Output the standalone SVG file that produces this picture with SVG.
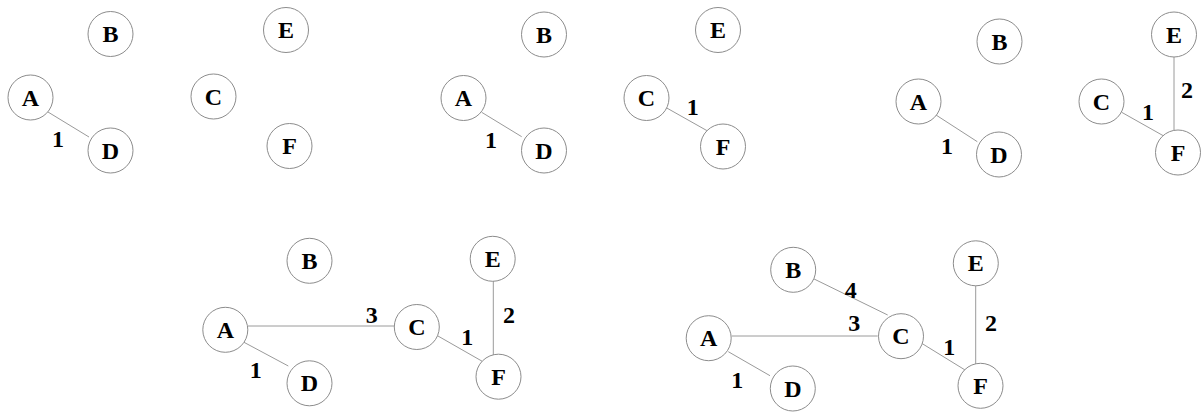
<svg xmlns="http://www.w3.org/2000/svg" width="1202" height="412" viewBox="0 0 1202 412">
  <style>
    .node circle { fill: #ffffff; stroke: #8c8c8c; stroke-width: 1; }
    .node text, .wt { font-family: "Liberation Serif", "Times New Roman", serif; font-weight: bold; font-size: 24px; fill: #000000; text-anchor: middle; }
    .edges line { stroke: #9a9a9a; stroke-width: 1; }
  </style>
  <rect width="1202" height="412" fill="#ffffff"/>

  <!-- edges of every stage -->
  <g id="connectors" class="edges">
    <!-- stage 1 -->
    <line x1="48" y1="112" x2="89" y2="137"/>
    <!-- stage 2 -->
    <line x1="481.7" y1="112.3" x2="521.7" y2="136.7"/>
    <line x1="665" y1="107" x2="711.7" y2="133.3"/>
    <!-- stage 3 -->
    <line x1="936" y1="115" x2="977.3" y2="141.7"/>
    <line x1="1121.7" y1="112.3" x2="1165" y2="136.7"/>
    <line x1="1174" y1="57" x2="1174" y2="137"/>
    <!-- stage 4 -->
    <line x1="244" y1="342.3" x2="288.3" y2="366"/>
    <line x1="248" y1="326" x2="394" y2="326"/>
    <line x1="435" y1="334.3" x2="484" y2="362.3"/>
    <line x1="493.3" y1="281" x2="493.3" y2="360"/>
    <!-- stage 5 -->
    <line x1="728.3" y1="351.7" x2="770" y2="375.7"/>
    <line x1="731.7" y1="336" x2="877.7" y2="336"/>
    <line x1="812.7" y1="278.3" x2="887.7" y2="315"/>
    <line x1="921.7" y1="343.3" x2="966.7" y2="371"/>
    <line x1="975.7" y1="286" x2="975.7" y2="366.7"/>
  </g>

  <!-- edge weights -->
  <g id="weights">
    <text class="wt" x="58" y="147">1</text>

    <text class="wt" x="491" y="148">1</text>
    <text class="wt" x="692.7" y="115">1</text>

    <text class="wt" x="947" y="154">1</text>
    <text class="wt" x="1148" y="120">1</text>
    <text class="wt" x="1187" y="98">2</text>

    <text class="wt" x="255.7" y="378">1</text>
    <text class="wt" x="371.7" y="323">3</text>
    <text class="wt" x="467.3" y="344.5">1</text>
    <text class="wt" x="509" y="323">2</text>

    <text class="wt" x="737.3" y="388">1</text>
    <text class="wt" x="850.7" y="298">4</text>
    <text class="wt" x="854.3" y="331">3</text>
    <text class="wt" x="949.3" y="354.5">1</text>
    <text class="wt" x="991" y="331">2</text>
  </g>

  <!-- stage 1 -->
  <g id="s1-A" class="node"><circle cx="30.5" cy="97.5" r="22.5"/><text x="30.5" y="105.5">A</text></g>
  <g id="s1-B" class="node"><circle cx="110.5" cy="34" r="22.5"/><text x="110.5" y="42">B</text></g>
  <g id="s1-C" class="node"><circle cx="213.5" cy="96.5" r="22.5"/><text x="213.5" y="104.5">C</text></g>
  <g id="s1-D" class="node"><circle cx="110.5" cy="150.5" r="22.5"/><text x="110.5" y="158.5">D</text></g>
  <g id="s1-E" class="node"><circle cx="286" cy="30" r="22.5"/><text x="286" y="38">E</text></g>
  <g id="s1-F" class="node"><circle cx="289.5" cy="146" r="22.5"/><text x="289.5" y="154">F</text></g>

  <!-- stage 2 -->
  <g id="s2-A" class="node"><circle cx="463.5" cy="98" r="22.5"/><text x="463.5" y="106">A</text></g>
  <g id="s2-B" class="node"><circle cx="544" cy="34.5" r="22.5"/><text x="544" y="42.5">B</text></g>
  <g id="s2-C" class="node"><circle cx="646.5" cy="98" r="22.5"/><text x="646.5" y="106">C</text></g>
  <g id="s2-D" class="node"><circle cx="544" cy="150.5" r="22.5"/><text x="544" y="158.5">D</text></g>
  <g id="s2-E" class="node"><circle cx="718" cy="30" r="22.5"/><text x="718" y="38">E</text></g>
  <g id="s2-F" class="node"><circle cx="723" cy="146.5" r="22.5"/><text x="723" y="154.5">F</text></g>

  <!-- stage 3 -->
  <g id="s3-A" class="node"><circle cx="918.5" cy="101.5" r="22.5"/><text x="918.5" y="109.5">A</text></g>
  <g id="s3-B" class="node"><circle cx="999.5" cy="41.5" r="22.5"/><text x="999.5" y="49.5">B</text></g>
  <g id="s3-C" class="node"><circle cx="1101.5" cy="101.5" r="22.5"/><text x="1101.5" y="109.5">C</text></g>
  <g id="s3-D" class="node"><circle cx="999" cy="154.5" r="22.5"/><text x="999" y="162.5">D</text></g>
  <g id="s3-E" class="node"><circle cx="1174" cy="34.5" r="22.5"/><text x="1174" y="42.5">E</text></g>
  <g id="s3-F" class="node"><circle cx="1178" cy="152.5" r="22.5"/><text x="1178" y="160.5">F</text></g>

  <!-- stage 4 -->
  <g id="s4-A" class="node"><circle cx="225.3" cy="329.8" r="22.5"/><text x="225.3" y="337.8">A</text></g>
  <g id="s4-B" class="node"><circle cx="309.5" cy="260.8" r="22.5"/><text x="309.5" y="268.8">B</text></g>
  <g id="s4-C" class="node"><circle cx="416.8" cy="327" r="22.5"/><text x="416.8" y="335">C</text></g>
  <g id="s4-D" class="node"><circle cx="309.5" cy="383.3" r="22.5"/><text x="309.5" y="391.3">D</text></g>
  <g id="s4-E" class="node"><circle cx="492.7" cy="258.8" r="22.5"/><text x="492.7" y="266.8">E</text></g>
  <g id="s4-F" class="node"><circle cx="498.5" cy="376.7" r="22.5"/><text x="498.5" y="384.7">F</text></g>

  <!-- stage 5 -->
  <g id="s5-A" class="node"><circle cx="708.7" cy="338.2" r="22.5"/><text x="708.7" y="346.2">A</text></g>
  <g id="s5-B" class="node"><circle cx="793.2" cy="269.8" r="22.5"/><text x="793.2" y="277.8">B</text></g>
  <g id="s5-C" class="node"><circle cx="901" cy="336.2" r="22.5"/><text x="901" y="344.2">C</text></g>
  <g id="s5-D" class="node"><circle cx="792.8" cy="388.5" r="22.5"/><text x="792.8" y="396.5">D</text></g>
  <g id="s5-E" class="node"><circle cx="975.8" cy="263.3" r="22.5"/><text x="975.8" y="271.3">E</text></g>
  <g id="s5-F" class="node"><circle cx="980.5" cy="385.8" r="22.5"/><text x="980.5" y="393.8">F</text></g>
</svg>
